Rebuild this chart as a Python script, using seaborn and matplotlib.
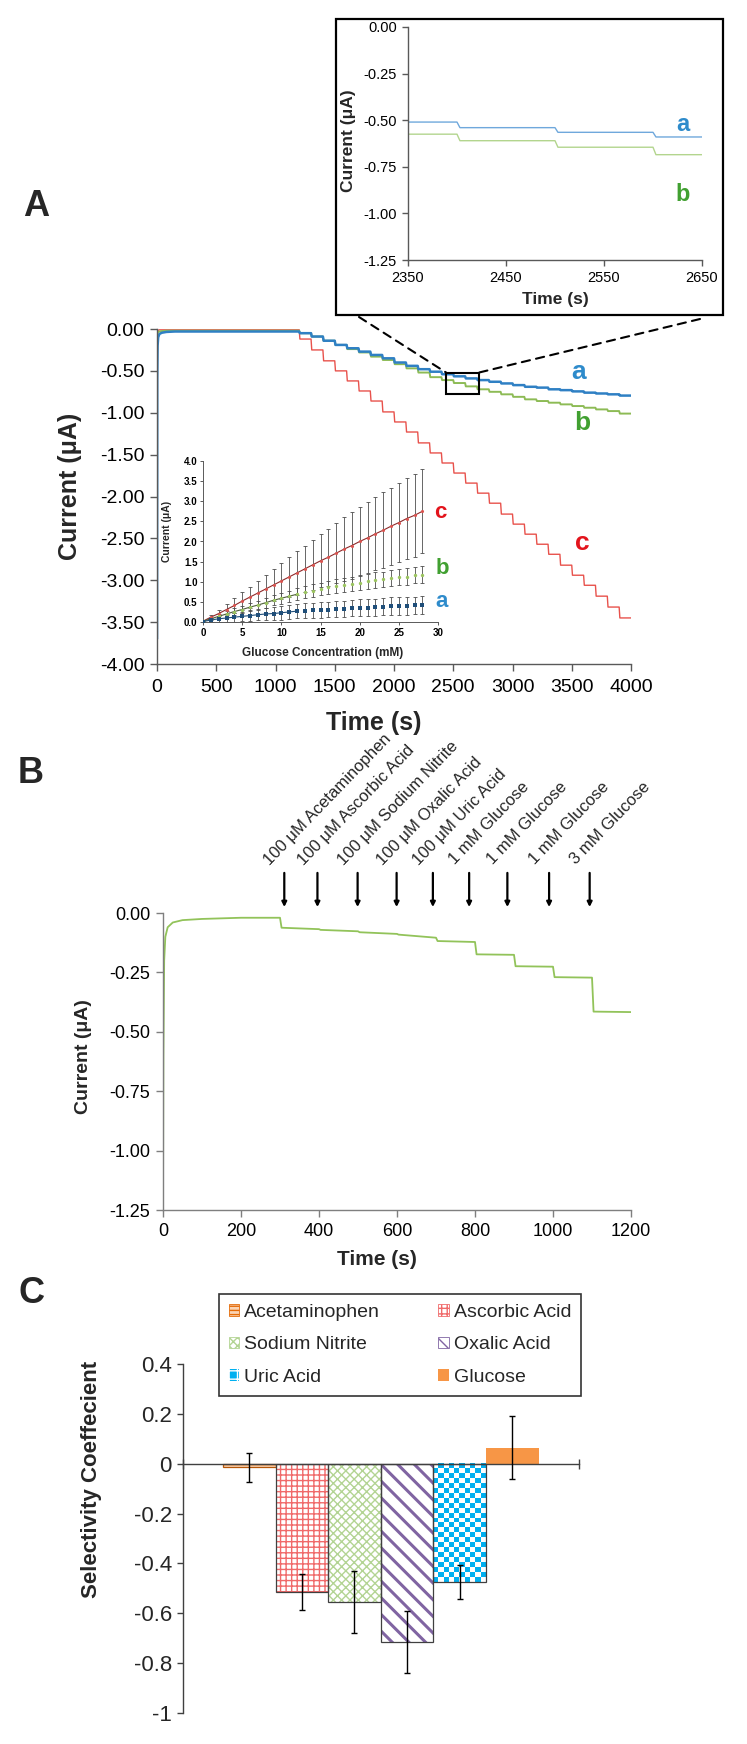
import numpy as np
import pandas as pd
import matplotlib
matplotlib.use("Agg")
import matplotlib.pyplot as plt
import matplotlib.transforms as mtransforms
from matplotlib.patches import Rectangle, Patch, ConnectionPatch
from matplotlib.colors import ListedColormap
from matplotlib.ticker import FuncFormatter
import seaborn as sns

# ---------------- data ----------------
# Panel A: amperometric traces (glucose added every 100 s from 1200 s)
start_t = [0, 2, 5, 10, 20, 40, 80, 150, 300, 1190]
a_start = [-3.70, -0.60, -0.20, -0.10, -0.06, -0.045, -0.035, -0.03, -0.03, -0.03]
b_start = [-0.30, -0.10, -0.05, -0.035, -0.03, -0.025, -0.02, -0.02, -0.02, -0.02]
c_start = [-0.25, -0.05, -0.02, -0.015, -0.01, -0.01, -0.01, -0.01, -0.01, -0.01]
step_t = [1200, 1300, 1400, 1500, 1600, 1700, 1800, 1900, 2000, 2100, 2200, 2300, 2400, 2500,
          2600, 2700, 2800, 2900, 3000, 3100, 3200, 3300, 3400, 3500, 3600, 3700, 3800, 3900]
a_levels = [-0.05, -0.09, -0.14, -0.19, -0.23, -0.27, -0.31, -0.35, -0.40, -0.44, -0.48, -0.51, -0.54, -0.565,
            -0.59, -0.61, -0.63, -0.65, -0.67, -0.69, -0.70, -0.72, -0.73, -0.745, -0.76, -0.77, -0.78, -0.795]
b_levels = [-0.05, -0.09, -0.14, -0.19, -0.24, -0.28, -0.33, -0.37, -0.42, -0.47, -0.52, -0.575, -0.61, -0.645,
            -0.685, -0.72, -0.75, -0.78, -0.81, -0.84, -0.86, -0.88, -0.90, -0.92, -0.94, -0.96, -0.98, -1.01]
c_levels = [-0.12, -0.25, -0.38, -0.50, -0.62, -0.74, -0.86, -0.99, -1.11, -1.23, -1.36, -1.48, -1.60, -1.72,
            -1.84, -1.96, -2.08, -2.21, -2.33, -2.45, -2.57, -2.69, -2.82, -2.94, -3.06, -3.19, -3.32, -3.45]

# Panel A inset: calibration curves
conc = [0, 1, 2, 3, 4, 5, 6, 7, 8, 9, 10, 11, 12, 13, 14, 15, 16, 17, 18, 19, 20, 21, 22, 23, 24, 25, 26, 27, 28]
cal_a = [0.01, 0.05, 0.08, 0.10, 0.12, 0.14, 0.16, 0.18, 0.20, 0.21, 0.23, 0.25, 0.27, 0.28, 0.29,
         0.30, 0.31, 0.32, 0.33, 0.34, 0.35, 0.36, 0.37, 0.38, 0.39, 0.40, 0.40, 0.41, 0.42]
cal_a_err = [0.01, 0.04, 0.07, 0.09, 0.11, 0.12, 0.13, 0.14, 0.15, 0.16, 0.17, 0.17, 0.18, 0.18, 0.19,
             0.19, 0.19, 0.20, 0.20, 0.20, 0.21, 0.21, 0.21, 0.21, 0.22, 0.22, 0.22, 0.22, 0.22]
cal_b = [0.02, 0.08, 0.14, 0.20, 0.26, 0.31, 0.37, 0.42, 0.48, 0.54, 0.59, 0.64, 0.69, 0.74, 0.78,
         0.82, 0.86, 0.89, 0.92, 0.95, 0.98, 1.01, 1.04, 1.06, 1.09, 1.11, 1.13, 1.16, 1.18]
cal_b_err = [0.01, 0.03, 0.05, 0.07, 0.08, 0.09, 0.10, 0.11, 0.12, 0.13, 0.14, 0.14, 0.15, 0.15, 0.16,
             0.16, 0.17, 0.17, 0.17, 0.18, 0.18, 0.18, 0.19, 0.19, 0.19, 0.20, 0.20, 0.20, 0.21]
cal_c = [0.02, 0.12, 0.21, 0.31, 0.41, 0.52, 0.62, 0.72, 0.82, 0.92, 1.02, 1.12, 1.22, 1.32, 1.42,
         1.52, 1.61, 1.71, 1.81, 1.90, 2.00, 2.09, 2.19, 2.28, 2.38, 2.47, 2.57, 2.65, 2.75]
cal_c_err = [0.02, 0.05, 0.10, 0.14, 0.18, 0.22, 0.26, 0.30, 0.35, 0.40, 0.45, 0.49, 0.54, 0.58, 0.62,
             0.66, 0.71, 0.75, 0.79, 0.83, 0.86, 0.88, 0.91, 0.94, 0.96, 0.98, 1.01, 1.03, 1.04]

# Panel B: interference test
b_t0 = [0, 1, 3, 6, 12, 25, 50, 100, 200, 296]
b_y0 = [-1.25, -0.60, -0.20, -0.10, -0.06, -0.04, -0.03, -0.025, -0.02, -0.02]
inj_t = [300, 400, 500, 600, 700, 800, 900, 1000, 1100]
inj_start = [-0.062, -0.071, -0.081, -0.091, -0.118, -0.174, -0.224, -0.270, -0.415]
inj_end = [-0.068, -0.077, -0.088, -0.104, -0.122, -0.176, -0.226, -0.272, -0.417]
arrow_t = [311, 396, 499, 599, 692, 785, 883, 990, 1094]
arrow_labels = ["100 \u03bcM Acetaminophen", "100 \u03bcM Ascorbic Acid", "100 \u03bcM Sodium Nitrite",
                "100 \u03bcM Oxalic Acid", "100 \u03bcM Uric Acid", "1 mM Glucose", "1 mM Glucose",
                "1 mM Glucose", "3 mM Glucose"]

# Panel C: selectivity coefficients
species = ["Acetaminophen", "Ascorbic Acid", "Sodium Nitrite", "Oxalic Acid", "Uric Acid", "Glucose"]
coef = [-0.015, -0.515, -0.555, -0.715, -0.475, 0.065]
coef_err = [0.057, 0.071, 0.126, 0.125, 0.068, 0.126]

# ---------------- style ----------------
sns.set_theme(style="ticks")
plt.rcParams["font.family"] = ["Liberation Sans", "DejaVu Sans"]
plt.rcParams["axes.unicode_minus"] = False
plt.rcParams["hatch.linewidth"] = 1.0

W, H = 747, 1744
fig = plt.figure(figsize=(W / 100, H / 100), dpi=100)


def box(left, top, right, bottom):
    return [left / W, 1 - bottom / H, (right - left) / W, (bottom - top) / H]


def build(t0, y0, times, levels, t_end, dt=6):
    t, y = list(t0), list(y0)
    for T, L in zip(times, levels):
        t += [T, T + dt]
        y += [y[-1], L]
    t.append(t_end)
    y.append(levels[-1])
    return t, y


def style_axis(ax, col="#595959", size=14, length=5):
    for s in ["left", "bottom"]:
        ax.spines[s].set_color(col)
        ax.spines[s].set_linewidth(1)
    sns.despine(ax=ax)
    ax.tick_params(direction="out", length=length, width=1, color=col, labelsize=size,
                   labelcolor="black", pad=4)


col_a, col_b, col_c = "#2f80c4", "#8dbb55", "#e8524c"
lab_a, lab_b, lab_c = "#2e8bcb", "#41a031", "#e3141c"

# ---------------- Panel A main ----------------
axA = fig.add_axes(box(157, 329, 631, 664))
for st, lv, col, lw in [(c_start, c_levels, col_c, 1.0), (b_start, b_levels, col_b, 1.4),
                        (a_start, a_levels, col_a, 1.8)]:
    t, y = build(start_t, st, step_t, lv, 4000)
    sns.lineplot(x=t, y=y, estimator=None, sort=False, color=col, lw=lw, ax=axA)
axA.set_xlim(0, 4000)
axA.set_ylim(-4, 0)
axA.set_xticks([0, 500, 1000, 1500, 2000, 2500, 3000, 3500, 4000])
axA.set_yticks([0, -0.5, -1, -1.5, -2, -2.5, -3, -3.5, -4])
axA.yaxis.set_major_formatter(FuncFormatter(lambda v, _: f"{v:.2f}"))
style_axis(axA)
axA.tick_params(axis="x", pad=6)
axA.set_xlabel("Time (s)", fontsize=18, fontweight="bold")
axA.set_ylabel("Current (\u03bcA)", fontsize=18, fontweight="bold")
axA.xaxis.set_label_coords(0.458, -0.14)
axA.yaxis.set_label_coords(-0.158, 0.53)
axA.text(3561, -0.51, "a", color=lab_a, fontsize=19, fontweight="bold", ha="center", va="center")
axA.text(3586, -1.12, "b", color=lab_b, fontsize=19, fontweight="bold", ha="center", va="center")
axA.text(3586, -2.55, "c", color=lab_c, fontsize=19, fontweight="bold", ha="center", va="center")

# zoom box + dashed connectors
axA.add_patch(Rectangle((2440, -0.78), 277, 0.26, fill=False, edgecolor="black", lw=1.5, zorder=5))
for fxy, dxy in [((359, 317), (2440, -0.52)), ((700, 319), (2717, -0.52))]:
    con = ConnectionPatch(xyA=(fxy[0] / W, 1 - fxy[1] / H), coordsA=fig.transFigure,
                          xyB=dxy, coordsB=axA.transData, color="black", lw=1.5,
                          linestyle=(0, (4, 3)))
    fig.add_artist(con)

# ---------------- Panel A top inset ----------------
frame = Rectangle((336 / W, 1 - 315 / H), 387 / W, 296 / H, transform=fig.transFigure,
                  facecolor="white", edgecolor="black", lw=1.6, zorder=2)
fig.add_artist(frame)
axZ = fig.add_axes(box(408, 27, 702, 260), zorder=3)
axZ.set_facecolor("none")
for st, lv, col in [(b_start, b_levels, "#b3d58e"), (a_start, a_levels, "#6fa8dc")]:
    t, y = build(start_t, st, step_t, lv, 4000, dt=3)
    sns.lineplot(x=t, y=y, estimator=None, sort=False, color=col, lw=1.0, ax=axZ)
axZ.set_xlim(2350, 2650)
axZ.set_ylim(-1.25, 0)
axZ.set_xticks([2350, 2450, 2550, 2650])
axZ.set_yticks([0, -0.25, -0.5, -0.75, -1.0, -1.25])
axZ.yaxis.set_major_formatter(FuncFormatter(lambda v, _: f"{v:.2f}"))
style_axis(axZ, size=10.5, length=4)
axZ.set_xlabel("Time (s)", fontsize=12.5, fontweight="bold")
axZ.set_ylabel("Current (\u03bcA)", fontsize=12.5, fontweight="bold")
axZ.xaxis.set_label_coords(0.5, -0.137)
axZ.yaxis.set_label_coords(-0.177, 0.51)
axZ.text(2630, -0.525, "a", color=lab_a, fontsize=17, fontweight="bold", ha="center", va="center")
axZ.text(2630, -0.90, "b", color=lab_b, fontsize=17, fontweight="bold", ha="center", va="center")

# ---------------- Panel A calibration inset ----------------
axI = fig.add_axes(box(203, 461, 438, 622))
axI.set_facecolor("none")
for vals, errs in [(cal_c, cal_c_err), (cal_b, cal_b_err), (cal_a, cal_a_err)]:
    axI.errorbar(conc, vals, yerr=errs, fmt="none", ecolor="#4d4d4d", elinewidth=0.6,
                 capsize=1.5, capthick=0.6, zorder=2)
sns.lineplot(x=conc, y=cal_c, estimator=None, sort=False, color="#8e2a2a", lw=0.8, ax=axI, zorder=3)
sns.lineplot(x=conc[:13], y=cal_b[:13], estimator=None, sort=False, color="#4f5f3a", lw=0.8, ax=axI, zorder=3)
sns.lineplot(x=conc[:13], y=cal_a[:13], estimator=None, sort=False, color="#1f4e79", lw=0.8, ax=axI, zorder=3)
sns.scatterplot(x=conc, y=cal_c, color="#d9534f", marker="o", s=5, linewidth=0, ax=axI, zorder=4)
sns.scatterplot(x=conc, y=cal_b, color="#9bc45f", marker="o", s=6, linewidth=0, ax=axI, zorder=4)
sns.scatterplot(x=conc, y=cal_a, color="#1f4e79", marker="s", s=10, linewidth=0, ax=axI, zorder=4)
axI.set_xlim(0, 30)
axI.set_ylim(0, 4)
axI.set_xticks([0, 5, 10, 15, 20, 25, 30])
axI.set_yticks([0, 0.5, 1, 1.5, 2, 2.5, 3, 3.5, 4])
axI.yaxis.set_major_formatter(FuncFormatter(lambda v, _: f"{v:.1f}"))
style_axis(axI, col="#595959", size=7, length=2)
for lab in axI.get_xticklabels() + axI.get_yticklabels():
    lab.set_fontweight("bold")
axI.tick_params(pad=2, width=0.7)
for s in ["left", "bottom"]:
    axI.spines[s].set_linewidth(0.7)
axI.set_xlabel("Glucose Concentration (mM)", fontsize=8.5, fontweight="bold")
axI.set_ylabel("Current (\u03bcA)", fontsize=7.5, fontweight="bold")
axI.xaxis.set_label_coords(0.51, -0.155)
axI.yaxis.set_label_coords(-0.13, 0.56)
axI.text(30.3, 2.71, "c", color=lab_c, fontsize=16, fontweight="bold", ha="center", va="center", clip_on=False)
axI.text(30.6, 1.34, "b", color=lab_b, fontsize=16, fontweight="bold", ha="center", va="center", clip_on=False)
axI.text(30.5, 0.50, "a", color=lab_a, fontsize=16, fontweight="bold", ha="center", va="center", clip_on=False)

# ---------------- Panel B ----------------
axB = fig.add_axes(box(163, 913, 631, 1210))
tB, yB = list(b_t0), list(b_y0)
for i, T in enumerate(inj_t):
    t_next = inj_t[i + 1] if i + 1 < len(inj_t) else 1200
    tB += [T, T + 4, t_next]
    yB += [yB[-1], inj_start[i], inj_end[i]]
sns.lineplot(x=tB, y=yB, estimator=None, sort=False, color="#92c35a", lw=1.3, ax=axB)
axB.set_xlim(0, 1200)
axB.set_ylim(-1.25, 0)
axB.set_xticks([0, 200, 400, 600, 800, 1000, 1200])
axB.set_yticks([0, -0.25, -0.5, -0.75, -1.0, -1.25])
axB.yaxis.set_major_formatter(FuncFormatter(lambda v, _: f"{v:.2f}"))
style_axis(axB, col="#7f7f7f", size=13, length=5)
axB.set_xlabel("Time (s)", fontsize=15, fontweight="bold")
axB.set_ylabel("Current (\u03bcA)", fontsize=14, fontweight="bold")
axB.xaxis.set_label_coords(0.457, -0.135)
axB.yaxis.set_label_coords(-0.152, 0.515)
trB = mtransforms.blended_transform_factory(axB.transData, axB.transAxes)
for x, lab in zip(arrow_t, arrow_labels):
    axB.annotate("", xy=(x, 1.02), xytext=(x, 1.135), xycoords=trB, textcoords=trB,
                 arrowprops=dict(arrowstyle="-|>", color="black", lw=1.6, mutation_scale=7,
                                 shrinkA=0, shrinkB=0), annotation_clip=False)
    axB.text(x - 36, 1.16, lab, transform=trB, rotation=46, rotation_mode="anchor",
             ha="left", va="baseline", fontsize=12, clip_on=False)

# ---------------- Panel C ----------------
axC = fig.add_axes(box(183, 1364, 578.5, 1713))
bar_style = {
    "Acetaminophen": dict(face="#fbd4b4", hatch="----", hcol="#e46c0a", outline="#b65708"),
    "Ascorbic Acid": dict(face="white", hatch="+++", hcol="#f06a6a", outline="#404040"),
    "Sodium Nitrite": dict(face="white", hatch="xxxx", hcol="#b3d493", outline="#404040"),
    "Oxalic Acid": dict(face="white", hatch="\\\\", hcol="#8064a2", outline="#404040"),
    "Uric Acid": dict(face="#00b0f0", hatch=None, hcol=None, outline="#404040"),
    "Glucose": dict(face="#f79646", hatch=None, hcol=None, outline=None),
}
dfC = pd.DataFrame({"species": species, "coef": coef})
sns.barplot(data=dfC, x="species", y="coef", hue="species", order=species, hue_order=species,
            palette={k: v["face"] for k, v in bar_style.items()}, width=1.0, saturation=1,
            errorbar=None, legend=False, ax=axC)
bars = sorted(axC.patches, key=lambda p: p.get_x())
centers = []
for name, p in zip(species, bars):
    st = bar_style[name]
    x0, w, h = p.get_x(), p.get_width(), p.get_height()
    centers.append(x0 + w / 2)
    p.set_facecolor(st["face"])
    if st["hatch"]:
        p.set_hatch(st["hatch"])
        p.set_edgecolor(st["hcol"])
        p.set_linewidth(0)
        if name == "Oxalic Acid" and hasattr(p, "set_hatch_linewidth"):
            p.set_hatch_linewidth(2.2)
    else:
        p.set_edgecolor("none")
        p.set_linewidth(0)
    if name == "Uric Acid":
        checker = np.add.outer(np.arange(24), np.arange(10)) % 2
        axC.imshow(checker, cmap=ListedColormap(["white", st["face"]]), extent=(x0, x0 + w, h, 0),
                   aspect="auto", interpolation="nearest", zorder=p.get_zorder() + 0.1)
    if st["outline"]:
        axC.add_patch(Rectangle((x0, 0), w, h, fill=False, edgecolor=st["outline"], lw=0.9,
                                zorder=p.get_zorder() + 0.2))
axC.errorbar(centers, coef, yerr=coef_err, fmt="none", ecolor="black", elinewidth=1,
             capsize=2.5, capthick=1, zorder=6)
axC.set_xlim(-1.26, 6.26)
axC.set_ylim(-1, 0.4)
axC.set_yticks([0.4, 0.2, 0, -0.2, -0.4, -0.6, -0.8, -1])
axC.yaxis.set_major_formatter(FuncFormatter(lambda v, _: f"{v:g}"))
sns.despine(ax=axC)
axC.spines["bottom"].set_position(("data", 0))
for s in ["left", "bottom"]:
    axC.spines[s].set_color("#404040")
    axC.spines[s].set_linewidth(1)
axC.set_xticks([-1.26, 6.26])
axC.set_xticklabels(["", ""])
axC.tick_params(axis="x", direction="inout", length=7, width=1, color="#404040")
axC.tick_params(axis="y", direction="out", length=4, width=1, color="#404040", labelsize=16, pad=4)
axC.set_xlabel("")
axC.set_ylabel("Selectivity Coeffecient", fontsize=16, fontweight="bold")
axC.yaxis.set_label_coords(-0.205, 0.668)

handles = {}
for name in species:
    st = bar_style[name]
    if name == "Uric Acid":
        handles[name] = Patch(facecolor=st["face"], edgecolor="white", hatch="++", lw=0)
    elif st["hatch"]:
        handles[name] = Patch(facecolor=st["face"], edgecolor=st["hcol"], hatch=st["hatch"], lw=0.6)
    else:
        handles[name] = Patch(facecolor=st["face"], edgecolor=st["face"], lw=0)
# matplotlib fills legend columns first; reorder so rows read like the original
leg_order = ["Acetaminophen", "Sodium Nitrite", "Uric Acid", "Ascorbic Acid", "Oxalic Acid", "Glucose"]
leg = axC.legend([handles[n] for n in leg_order], leg_order, ncol=2, loc="upper left",
                 bbox_to_anchor=(219 / W, 1 - 1294 / H), bbox_transform=fig.transFigure,
                 fontsize=14, frameon=True, fancybox=False, edgecolor="black",
                 handlelength=0.55, handleheight=0.55, handletextpad=0.25,
                 labelspacing=0.8, columnspacing=3.0, borderpad=0.5, borderaxespad=0)
leg.get_frame().set_linewidth(1.2)

# panel letters
for lab, (px, py) in [("A", (36, 206)), ("B", (31, 773)), ("C", (31, 1293))]:
    fig.text(px / W, 1 - py / H, lab, fontsize=26, fontweight="bold", ha="center", va="center")

fig.savefig("out.png", dpi=100)
